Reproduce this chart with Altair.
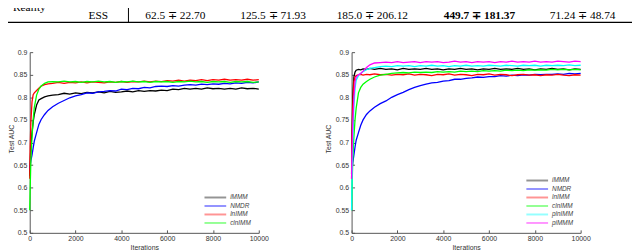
import altair as alt
import pandas as pd

# ---------------- data ----------------
ITERS = [0, 20, 50, 100, 150, 200, 300, 400, 500, 650, 800,
         1000, 1250, 1500, 1750, 2000, 2250, 2500, 2750, 3000, 3250, 3500, 3750,
         4000, 4250, 4500, 4750, 5000, 5250, 5500, 5750, 6000, 6250, 6500, 6750,
         7000, 7250, 7500, 7750, 8000, 8250, 8500, 8750, 9000, 9250, 9500, 9750, 10000]

# left panel
L_iMMM = [0.625, 0.655, 0.690, 0.722, 0.745, 0.762, 0.783, 0.794, 0.797, 0.801, 0.803,
          0.805, 0.806, 0.809, 0.807, 0.810, 0.808, 0.811, 0.810, 0.812, 0.810, 0.813, 0.811,
          0.812, 0.814, 0.812, 0.815, 0.813, 0.815, 0.814, 0.816, 0.815, 0.818, 0.817, 0.820,
          0.818, 0.820, 0.818, 0.821, 0.819, 0.820, 0.818, 0.820, 0.818, 0.821, 0.819, 0.820, 0.818]
L_NMDR = [0.640, 0.648, 0.660, 0.672, 0.688, 0.703, 0.722, 0.740, 0.751, 0.762, 0.771,
          0.779, 0.787, 0.793, 0.799, 0.803, 0.806, 0.810, 0.809, 0.812, 0.813, 0.815, 0.814,
          0.818, 0.817, 0.820, 0.819, 0.822, 0.821, 0.824, 0.825, 0.824, 0.826, 0.825, 0.827,
          0.828, 0.827, 0.829, 0.828, 0.830, 0.829, 0.831, 0.830, 0.832, 0.831, 0.833, 0.832, 0.834]
L_lnIMM = [0.620, 0.690, 0.745, 0.790, 0.806, 0.810, 0.815, 0.820, 0.825, 0.828, 0.830,
           0.831, 0.833, 0.831, 0.833, 0.832, 0.834, 0.832, 0.834, 0.833, 0.832, 0.834, 0.833,
           0.835, 0.833, 0.835, 0.834, 0.836, 0.834, 0.836, 0.835, 0.837, 0.836, 0.838, 0.836,
           0.838, 0.837, 0.839, 0.837, 0.839, 0.838, 0.840, 0.838, 0.839, 0.838, 0.840, 0.838, 0.839]
L_clnIMM = [0.550, 0.600, 0.660, 0.712, 0.750, 0.778, 0.805, 0.818, 0.825, 0.831, 0.834,
            0.835, 0.834, 0.836, 0.834, 0.835, 0.833, 0.835, 0.834, 0.836, 0.834, 0.835, 0.833,
            0.835, 0.834, 0.836, 0.834, 0.835, 0.833, 0.835, 0.834, 0.835, 0.833, 0.835, 0.834,
            0.836, 0.834, 0.835, 0.833, 0.835, 0.834, 0.835, 0.833, 0.835, 0.834, 0.835, 0.833, 0.834]

# right panel
R_iMMM = [0.630, 0.720, 0.800, 0.845, 0.856, 0.860, 0.862, 0.861, 0.863, 0.862, 0.864,
          0.862, 0.864, 0.862, 0.863, 0.861, 0.864, 0.862, 0.863, 0.862, 0.864, 0.862, 0.863,
          0.861, 0.863, 0.862, 0.864, 0.862, 0.863, 0.861, 0.863, 0.862, 0.864, 0.862, 0.863,
          0.862, 0.864, 0.862, 0.863, 0.861, 0.863, 0.862, 0.864, 0.862, 0.863, 0.861, 0.863, 0.862]
R_NMDR = [0.630, 0.640, 0.655, 0.672, 0.690, 0.705, 0.722, 0.738, 0.750, 0.762, 0.770,
          0.778, 0.786, 0.792, 0.800, 0.806, 0.811, 0.817, 0.822, 0.826, 0.829, 0.832, 0.833,
          0.836, 0.837, 0.840, 0.840, 0.842, 0.843, 0.845, 0.844, 0.846, 0.846, 0.848, 0.847,
          0.849, 0.848, 0.850, 0.849, 0.851, 0.850, 0.851, 0.851, 0.852, 0.851, 0.853, 0.852, 0.853]
R_lnIMM = [0.620, 0.700, 0.780, 0.835, 0.845, 0.848, 0.850, 0.851, 0.849, 0.851, 0.850,
           0.852, 0.850, 0.851, 0.849, 0.851, 0.850, 0.852, 0.849, 0.851, 0.850, 0.848, 0.851,
           0.850, 0.852, 0.849, 0.851, 0.850, 0.848, 0.851, 0.850, 0.852, 0.849, 0.851, 0.850,
           0.848, 0.850, 0.851, 0.849, 0.850, 0.848, 0.850, 0.849, 0.851, 0.849, 0.848, 0.850, 0.849]
R_clnIMM = [0.550, 0.600, 0.660, 0.712, 0.750, 0.776, 0.810, 0.822, 0.829, 0.835, 0.840,
            0.845, 0.849, 0.851, 0.853, 0.854, 0.855, 0.854, 0.856, 0.855, 0.856, 0.855, 0.857,
            0.856, 0.857, 0.856, 0.858, 0.857, 0.858, 0.857, 0.859, 0.858, 0.859, 0.858, 0.860,
            0.859, 0.860, 0.859, 0.861, 0.860, 0.861, 0.860, 0.862, 0.861, 0.862, 0.861, 0.862, 0.861]
R_plnIMM = [0.550, 0.620, 0.700, 0.780, 0.820, 0.838, 0.848, 0.853, 0.857, 0.861, 0.864,
            0.866, 0.868, 0.869, 0.868, 0.870, 0.869, 0.870, 0.868, 0.870, 0.869, 0.871, 0.869,
            0.870, 0.868, 0.870, 0.869, 0.871, 0.869, 0.870, 0.869, 0.871, 0.870, 0.869, 0.871,
            0.870, 0.869, 0.871, 0.870, 0.871, 0.869, 0.871, 0.870, 0.871, 0.870, 0.872, 0.870, 0.871]
R_piMMM = [0.620, 0.680, 0.740, 0.800, 0.835, 0.845, 0.850, 0.853, 0.858, 0.866, 0.872,
           0.876, 0.877, 0.878, 0.877, 0.879, 0.877, 0.878, 0.879, 0.877, 0.879, 0.878, 0.879,
           0.877, 0.878, 0.880, 0.878, 0.879, 0.877, 0.879, 0.878, 0.879, 0.877, 0.879, 0.878,
           0.880, 0.878, 0.879, 0.878, 0.880, 0.878, 0.879, 0.878, 0.880, 0.879, 0.878, 0.880, 0.879]

LEFT_NAMES = ["iMMM", "NMDR", "lnIMM", "clnIMM"]
LEFT_VALUES = [L_iMMM, L_NMDR, L_lnIMM, L_clnIMM]
RIGHT_NAMES = ["iMMM", "NMDR", "lnIMM", "clnIMM", "plnIMM", "piMMM"]
RIGHT_VALUES = [R_iMMM, R_NMDR, R_lnIMM, R_clnIMM, R_plnIMM, R_piMMM]

COLORS = {"iMMM": "#000000", "NMDR": "#0000ff", "lnIMM": "#ff0000",
          "clnIMM": "#00ff00", "plnIMM": "#00ffff", "piMMM": "#ff00ff"}

TABLE_ROW_HEAD = "Reality"
TABLE_LABEL = "ESS"
TABLE_CELLS = ["62.5 ∓ 22.70", "125.5 ∓ 71.93", "185.0 ∓ 206.12", "449.7 ∓ 181.37", "71.24 ∓ 48.74"]
TABLE_BOLD = [False, False, False, True, False]

X_TICKS = [0, 2000, 4000, 6000, 8000, 10000]
Y_TICKS = [0.5, 0.55, 0.6, 0.65, 0.7, 0.75, 0.8, 0.85, 0.9]
X_TITLE = "Iterations"
Y_TITLE = "Test AUC"

# ---------------- layout constants ----------------
W, H = 232, 183
AXIS_COLOR = "#555555"
LABEL_COLOR = "#333333"
SANS = "Liberation Sans"
SERIF = "Liberation Serif"
TABLE_BASE = -33.5   # text baseline relative to the left plot's top edge
TABLE_FS = 11.5

ONE = pd.DataFrame({"k": [0]})


def panel(names, values, ytitle_x, with_table=False):
    xs = alt.Scale(domain=[0, 10000], nice=False, zero=False)
    ys = alt.Scale(domain=[0.5, 0.9], nice=False, zero=False)
    axis_df = pd.DataFrame({"it": [0, 10000], "auc": [0.5, 0.9]})

    main_axes = alt.Chart(axis_df).mark_point(opacity=0).encode(
        x=alt.X("it:Q", scale=xs, axis=alt.Axis(
            orient="bottom", values=X_TICKS, format="d", ticks=False, tickSize=0,
            domainColor=AXIS_COLOR, domainWidth=1, grid=False,
            labelFont=SANS, labelFontSize=7, labelColor=LABEL_COLOR, labelPadding=2,
            labelFlush=False, labelOverlap=False,
            title=X_TITLE, titleFont=SANS, titleFontSize=7, titleFontWeight="normal",
            titleColor=LABEL_COLOR, titlePadding=2)),
        y=alt.Y("auc:Q", scale=ys, axis=alt.Axis(
            orient="left", values=Y_TICKS, format=".2~f", ticks=False, tickSize=0,
            domainColor=AXIS_COLOR, domainWidth=1, grid=False,
            labelFont=SANS, labelFontSize=7, labelColor=LABEL_COLOR, labelPadding=3,
            labelFlush=False, labelOverlap=False,
            title=Y_TITLE, titleFont=SANS, titleFontSize=7, titleFontWeight="normal",
            titleColor=LABEL_COLOR, titleX=ytitle_x, titleY=H / 2 - 4,
            titleBaseline="middle", titleAngle=270)),
    )
    tick_axes = alt.Chart(axis_df).mark_point(opacity=0).encode(
        x=alt.X("it:Q", scale=xs, axis=alt.Axis(
            orient="bottom", values=X_TICKS, domain=False, labels=False, grid=False,
            ticks=True, tickSize=3, tickColor=AXIS_COLOR, tickWidth=1, offset=-3, title=None)),
        y=alt.Y("auc:Q", scale=ys, axis=alt.Axis(
            orient="left", values=Y_TICKS, domain=False, labels=False, grid=False,
            ticks=True, tickSize=3, tickColor=AXIS_COLOR, tickWidth=1, offset=-3, title=None)),
    )

    layers = [main_axes, tick_axes]
    for name, vals in zip(names, values):
        df = pd.DataFrame({"it": ITERS, "auc": vals})
        layers.append(
            alt.Chart(df).mark_line(color=COLORS[name], strokeWidth=1.3, strokeJoin="miter").encode(
                x=alt.X("it:Q", scale=xs, axis=None),
                y=alt.Y("auc:Q", scale=ys, axis=None),
            )
        )

    # legend (drawn as marks)
    n = len(names)
    for i, name in enumerate(names):
        yy = 173 - (n - 1 - i) * 8.6
        layers.append(
            alt.Chart(ONE).mark_rule(color=COLORS[name], opacity=0.42, strokeWidth=2).encode(
                x=alt.value(177), x2=alt.value(199), y=alt.value(yy))
        )
        layers.append(
            alt.Chart(pd.DataFrame({"t": [name]})).mark_text(
                align="left", baseline="middle", font=SANS, fontSize=6.5,
                fontStyle="italic", color="#444444").encode(
                x=alt.value(203), y=alt.value(yy), text="t:N")
        )

    if with_table:
        layers.append(
            alt.Chart(ONE).mark_rule(color="black", strokeWidth=1.2).encode(
                x=alt.value(-22), x2=alt.value(610), y=alt.value(TABLE_BASE + 3.3))
        )
        layers.append(
            alt.Chart(ONE).mark_rule(color="black", strokeWidth=1).encode(
                x=alt.value(100), y=alt.value(-45), y2=alt.value(TABLE_BASE + 3))
        )
        layers.append(
            alt.Chart(pd.DataFrame({"t": [TABLE_ROW_HEAD]})).mark_text(
                align="left", baseline="alphabetic", font=SERIF, fontSize=TABLE_FS, color="black").encode(
                x=alt.value(-17), y=alt.value(TABLE_BASE - 8), text="t:N")
        )
        layers.append(
            alt.Chart(pd.DataFrame({"t": [TABLE_LABEL]})).mark_text(
                align="center", baseline="alphabetic", font=SERIF, fontSize=TABLE_FS, color="black").encode(
                x=alt.value(69.5), y=alt.value(TABLE_BASE), text="t:N")
        )
        centers = [177.5, 276.5, 377, 485.5, 590]
        for cx, txt, bold in zip(centers, TABLE_CELLS, TABLE_BOLD):
            layers.append(
                alt.Chart(pd.DataFrame({"t": [txt]})).mark_text(
                    align="center", baseline="alphabetic", font=SERIF, fontSize=TABLE_FS,
                    fontWeight="bold" if bold else "normal", color="black").encode(
                    x=alt.value(cx - 30), y=alt.value(TABLE_BASE), text="t:N")
            )

    return alt.layer(*layers).resolve_axis(x="independent", y="independent").properties(
        width=W, height=H)


left = panel(LEFT_NAMES, LEFT_VALUES, ytitle_x=-18, with_table=True)
right = panel(RIGHT_NAMES, RIGHT_VALUES, ytitle_x=-23)

chart = alt.hconcat(left, right, spacing=94, bounds="flush").properties(
    autosize=alt.AutoSizeParams(type="none"),
    padding={"left": 22, "top": 42, "right": 610, "bottom": 200},
    background="white",
).configure_view(stroke=None)

chart.save("out.html", embed_options={"renderer": "svg", "actions": False})
